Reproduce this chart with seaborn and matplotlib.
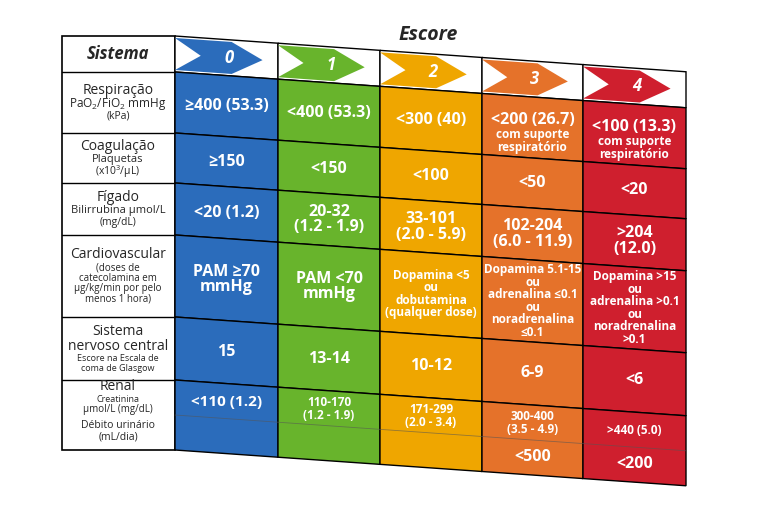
import matplotlib
matplotlib.use("Agg")
import matplotlib.pyplot as plt
import seaborn as sns
from matplotlib.patches import Polygon

sns.set_theme(style="white")
plt.rcParams["font.family"] = "Open Sans"
plt.rcParams["mathtext.fontset"] = "custom"
plt.rcParams["mathtext.rm"] = "Open Sans"
plt.rcParams["mathtext.it"] = "Open Sans"

scores = ["0", "1", "2", "3", "4"]
colors = ["#2b6cbb", "#68b42c", "#efa600", "#e5722a", "#cf1f2e"]
systems = [
    [("Respiração", 10, "normal"), ("PaO$_2$/FiO$_2$ mmHg", 8.5, "normal"), ("(kPa)", 7.5, "normal")],
    [("Coagulação", 10, "normal"), ("Plaquetas", 8, "normal"), ("(x10$^3$/µL)", 7.5, "normal")],
    [("Fígado", 10, "normal"), ("Bilirrubina µmol/L", 8, "normal"), ("(mg/dL)", 7.5, "normal")],
    [("Cardiovascular", 10, "normal"), ("(doses de", 7, "normal"), ("catecolamina em", 7, "normal"),
     ("µg/kg/min por pelo", 7, "normal"), ("menos 1 hora)", 7, "normal")],
    [("Sistema", 10, "normal"), ("nervoso central", 10, "normal"), ("Escore na Escala de", 6.5, "normal"),
     ("coma de Glasgow", 6.5, "normal")],
]
respiracao = ["≥400 (53.3)", "<400 (53.3)", "<300 (40)", "<200 (26.7)", "<100 (13.3)"]
resp_sub = ["", "", "", "com suporte\nrespiratório", "com suporte\nrespiratório"]
coagulacao = ["≥150", "<150", "<100", "<50", "<20"]
figado = ["<20 (1.2)", "20-32\n(1.2 - 1.9)", "33-101\n(2.0 - 5.9)", "102-204\n(6.0 - 11.9)", ">204\n(12.0)"]
cardio = ["PAM ≥70\nmmHg", "PAM <70\nmmHg", "Dopamina <5\nou\ndobutamina\n(qualquer dose)",
          "Dopamina 5.1-15\nou\nadrenalina ≤0.1\nou\nnoradrenalina\n≤0.1",
          "Dopamina >15\nou\nadrenalina >0.1\nou\nnoradrenalina\n>0.1"]
snc = ["15", "13-14", "10-12", "6-9", "<6"]
creatinina = ["<110 (1.2)", "110-170\n(1.2 - 1.9)", "171-299\n(2.0 - 3.4)", "300-400\n(3.5 - 4.9)", ">440 (5.0)"]
debito = ["", "", "", "<500", "<200"]

fig = plt.figure(figsize=(7.6, 5.07), dpi=100)
ax = fig.add_axes([0, 0, 1, 1])
ax.set_xlim(0, 760); ax.set_ylim(507, 0); ax.axis("off")

S = 0.07
X0 = 175
xs = [175, 278, 380, 482, 583, 686]
rows = [36, 72, 133, 183, 235, 317, 380, 450]
sub = 415

def off(x):
    return S * (x - X0)

def para(x0, x1, ya, yb, fc, lw=1.0):
    ax.add_patch(Polygon([(x0, ya + off(x0)), (x1, ya + off(x1)), (x1, yb + off(x1)), (x0, yb + off(x0))],
                         closed=True, fc=fc, ec="black", lw=lw))

ax.add_patch(Polygon([(62, 36), (175, 36), (175, 450), (62, 450)], fc="white", ec="black", lw=1.2))
for y in rows[1:-1]:
    ax.plot([62, 175], [y, y], color="black", lw=1.0)
ax.text(118, 54, "Sistema", ha="center", va="center", fontsize=12, fontweight="bold", style="italic")

def stack(lines, yc):
    hts = [s * 1.5 for _, s, _ in lines]
    y = yc - sum(hts) / 2
    for (t, s, w), h in zip(lines, hts):
        ax.text(118, y + h / 2, t, ha="center", va="center", fontsize=s, fontweight=w)
        y += h

for i, lines in enumerate(systems):
    stack(lines, (rows[i + 1] + rows[i + 2]) / 2)
stack([("Renal", 10, "normal"), ("Creatinina", 6.5, "normal"), ("µmol/L (mg/dL)", 7, "normal")], 397)
stack([("Débito urinário", 7.5, "normal"), ("(mL/dia)", 7.5, "normal")], 431)

ax.text(428, 35, "Escore", ha="center", va="center", fontsize=14, fontweight="bold", style="italic")

def ctext(j, yc, t, size):
    xc = (xs[j] + xs[j + 1]) / 2
    ax.text(xc, yc + off(xc), t, ha="center", va="center", fontsize=size, color="white",
            fontweight="bold", linespacing=0.95)

for j in range(5):
    x0, x1 = xs[j], xs[j + 1]
    w = x1 - x0
    para(x0, x1, rows[0], rows[1], "white")
    ya, yb = rows[0] + 2, rows[1] - 2
    ym = (ya + yb) / 2
    pts = [(x0, ya), (x0 + 0.55 * w, ya), (x0 + 0.85 * w, ym), (x0 + 0.55 * w, yb), (x0, yb), (x0 + 0.25 * w, ym)]
    ax.add_patch(Polygon([(px, py + off(px)) for px, py in pts], fc=colors[j], ec="none"))
    ax.text(x0 + 0.52 * w, ym + off(x0 + 0.52 * w), scores[j], ha="center", va="center",
            fontsize=12, color="white", fontweight="bold", style="italic")
    for r in range(1, 7):
        para(x0, x1, rows[r], rows[r + 1], colors[j])
    ax.plot([x0, x1], [sub + off(x0), sub + off(x1)], color="#555555", lw=0.6, alpha=0.6)

    if resp_sub[j]:
        ctext(j, 95, respiracao[j], 11.5)
        ctext(j, 116, resp_sub[j], 8.5)
    else:
        ctext(j, 102, respiracao[j], 11.5)
    ctext(j, 158, coagulacao[j], 11.5)
    ctext(j, 209, figado[j], 11.5)
    ctext(j, 276, cardio[j], 11.5 if j < 2 else 8.5)
    ctext(j, 348, snc[j], 11.5)
    ctext(j, 398, creatinina[j], 11 if j == 0 else 8.5)
    if debito[j]:
        ctext(j, 432, debito[j], 11.5)

fig.savefig("out.png", dpi=100)
